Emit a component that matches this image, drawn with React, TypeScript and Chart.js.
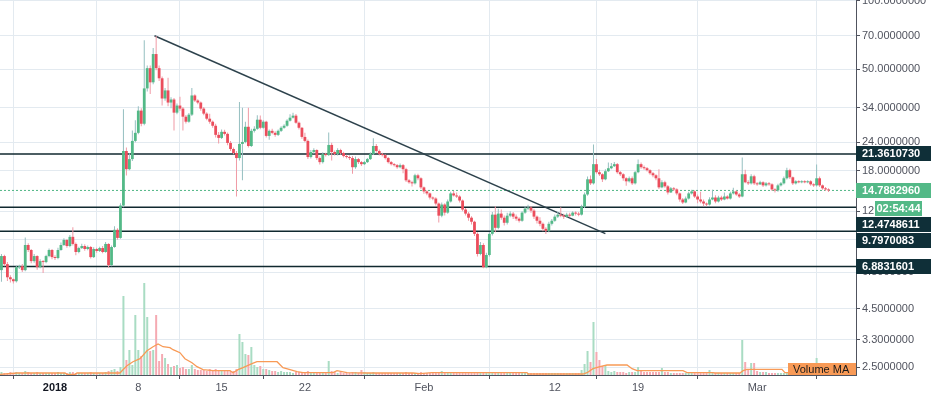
import React, { useEffect, useRef } from 'react';
import Chart from 'chart.js/auto';

// ---- time layout of the candles (6h candles, day 0 = 1 Jan 2018) ----
const START_DAY = -4.5;
const STEP_DAYS = 0.25;

// ---- price data ----
const firstOpen = 6.63;
const closes = [
  7.64, 7.04, 6.17, 6.05, 5.93, 6.83, 6.90, 6.63, 8.54, 8.12,
  7.26, 7.64, 6.83, 7.26, 7.19, 7.64, 8.12, 7.56, 7.49, 8.12,
  8.54, 8.99, 8.45, 9.27, 8.63, 7.96, 8.28, 8.45, 8.20, 8.37,
  7.56, 8.20, 8.04, 8.28, 7.96, 8.63, 6.97, 8.37, 9.95, 9.17,
  12.70, 21.99, 18.31, 20.27, 24.34, 26.40, 33.02, 28.93, 41.29, 50.61,
  43.89, 58.34, 50.61, 45.71, 37.30, 40.46, 35.81, 36.92, 32.35, 34.74,
  33.69, 31.06, 29.53, 31.70, 38.45, 36.55, 35.81, 33.69, 32.03, 30.44,
  29.53, 28.35, 25.87, 25.09, 26.67, 26.13, 23.85, 22.44, 21.55, 20.48,
  23.61, 24.09, 28.06, 23.13, 26.94, 27.50, 30.13, 27.78, 29.53, 25.60,
  26.94, 26.40, 25.87, 26.94, 27.78, 28.35, 29.83, 30.75, 31.38, 29.23,
  27.78, 25.34, 24.34, 20.69, 21.77, 22.21, 20.48, 19.66, 21.33, 21.11,
  23.37, 21.77, 21.33, 22.21, 21.55, 20.90, 20.69, 20.48, 18.68, 20.27,
  19.66, 19.26, 19.66, 20.27, 21.33, 23.13, 21.99, 21.33, 21.11, 20.48,
  19.66, 19.26, 19.07, 18.68, 19.07, 18.31, 16.37, 16.05, 15.88, 17.22,
  16.71, 15.25, 14.64, 14.35, 13.77, 13.63, 12.96, 11.47, 12.83, 11.83,
  13.23, 14.35, 14.06, 13.91, 13.36, 12.20, 11.71, 11.24, 10.79, 9.55,
  7.80, 8.54, 6.83, 7.72, 9.55, 11.59, 10.15, 11.71, 11.24, 10.68,
  11.47, 11.71, 11.36, 11.13, 10.90, 11.83, 12.32, 12.45, 12.07, 11.36,
  10.90, 10.57, 10.05, 9.85, 10.57, 10.90, 11.36, 11.59, 11.47, 11.36,
  11.59, 11.47, 11.83, 11.71, 11.59, 12.57, 14.20, 16.54, 15.88, 19.26,
  17.76, 17.40, 16.54, 17.94, 18.49, 18.87, 19.26, 17.76, 17.40, 16.71,
  16.21, 16.71, 15.88, 17.76, 19.26, 18.68, 18.49, 18.12, 17.58, 17.22,
  16.71, 15.25, 16.05, 15.41, 14.49, 15.10, 14.94, 14.35, 13.50, 13.10,
  13.63, 14.35, 14.64, 13.91, 13.50, 13.23, 12.96, 12.83, 13.50, 13.77,
  13.23, 13.77, 13.50, 13.91, 13.63, 14.35, 14.64, 14.20, 13.91, 17.40,
  16.05, 15.88, 17.05, 15.88, 15.72, 16.05, 15.56, 15.88, 15.72, 14.94,
  14.79, 15.56, 15.88, 16.71, 18.12, 16.88, 15.88, 16.21, 16.05, 16.21,
  16.05, 16.21, 15.72, 15.56, 16.71, 15.56, 15.10, 14.94, 14.788,
];
const highs = [
  7.80, 7.75, 7.20, 6.30, 6.10, 6.95, 7.00, 7.05, 9.20, 8.70,
  8.20, 7.80, 7.70, 7.40, 7.35, 7.75, 8.25, 8.20, 7.70, 8.30,
  8.75, 9.15, 9.05, 9.45, 10.20, 8.75, 8.40, 8.65, 8.60, 8.50,
  8.45, 8.35, 8.30, 8.40, 8.45, 8.80, 8.70, 8.50, 10.30, 10.10,
  13.00, 33.50, 22.80, 21.50, 27.00, 30.00, 34.50, 33.80, 67.00, 52.00,
  52.00, 62.00, 70.00, 52.00, 46.50, 41.50, 46.00, 37.80, 37.50, 35.50,
  38.00, 34.20, 31.60, 32.20, 41.50, 38.90, 37.00, 36.20, 34.20, 32.50,
  32.00, 29.90, 28.90, 26.60, 27.30, 27.20, 26.50, 24.30, 22.80, 22.00,
  36.00, 34.00, 29.50, 34.00, 27.50, 28.20, 31.50, 31.40, 30.00, 29.80,
  27.30, 27.50, 26.80, 27.30, 28.20, 28.80, 30.30, 31.80, 32.30, 31.90,
  29.60, 28.00, 26.40, 24.70, 22.20, 22.60, 22.40, 20.80, 21.70, 21.60,
  26.50, 23.90, 22.10, 22.60, 22.50, 21.80, 21.20, 21.00, 20.90, 20.80,
  20.50, 19.90, 19.90, 20.50, 21.70, 25.00, 23.60, 22.30, 21.60, 21.30,
  20.70, 19.90, 19.50, 19.30, 19.40, 19.30, 18.60, 16.60, 16.30, 17.50,
  17.50, 16.90, 15.40, 14.80, 14.50, 13.90, 13.80, 13.10, 13.10, 13.00,
  13.50, 14.60, 14.70, 14.50, 14.10, 13.50, 12.40, 11.90, 11.40, 10.90,
  9.70, 8.80, 8.70, 7.90, 9.70, 11.90, 12.60, 12.30, 12.20, 11.50,
  11.80, 12.00, 11.90, 11.60, 11.30, 12.00, 12.60, 12.80, 12.60, 12.30,
  11.50, 11.30, 10.70, 10.20, 10.80, 11.10, 11.60, 11.90, 12.50, 11.70,
  11.80, 11.80, 12.00, 12.00, 11.90, 12.80, 14.50, 17.00, 17.20, 23.50,
  20.30, 18.20, 17.60, 18.30, 19.60, 19.50, 19.70, 19.50, 18.00, 17.60,
  16.90, 17.00, 17.00, 18.00, 20.20, 19.60, 19.00, 18.70, 18.30, 17.80,
  17.40, 18.30, 16.40, 16.30, 15.60, 15.30, 15.30, 15.10, 14.50, 13.70,
  13.90, 14.60, 14.90, 14.80, 14.20, 14.60, 13.50, 13.10, 13.80, 14.90,
  14.10, 14.00, 14.00, 14.50, 14.10, 14.60, 15.20, 14.80, 14.40, 20.60,
  18.20, 16.40, 17.40, 17.30, 16.10, 16.30, 16.20, 16.10, 16.10, 15.90,
  15.10, 15.80, 16.10, 17.00, 18.60, 18.40, 17.00, 16.40, 16.40, 16.40,
  16.40, 16.40, 16.40, 15.90, 19.20, 17.00, 15.70, 15.30, 15.10,
];
const lows = [
  5.90, 6.90, 5.95, 5.85, 5.80, 5.85, 6.70, 6.50, 6.55, 7.95,
  7.10, 7.15, 6.65, 6.75, 6.45, 7.10, 7.55, 7.40, 7.35, 7.40,
  8.05, 8.45, 8.30, 8.35, 8.50, 7.70, 7.85, 8.20, 8.05, 8.10,
  7.45, 7.50, 7.90, 7.95, 7.85, 7.90, 6.80, 6.90, 8.30, 9.00,
  9.10, 12.50, 17.20, 18.10, 19.90, 24.00, 26.00, 28.20, 28.50, 40.00,
  39.00, 43.00, 49.50, 44.50, 34.80, 36.50, 34.50, 33.80, 27.00, 31.80,
  33.00, 27.00, 29.00, 29.20, 31.30, 36.00, 35.20, 33.00, 31.50, 30.00,
  28.90, 27.80, 25.20, 23.70, 24.80, 25.70, 23.30, 22.00, 21.30, 13.90,
  20.00, 16.40, 23.80, 22.80, 22.90, 26.50, 27.20, 27.40, 27.50, 25.20,
  24.60, 26.00, 25.40, 25.60, 26.60, 27.50, 28.10, 29.60, 30.50, 28.90,
  27.30, 24.90, 24.00, 20.30, 20.40, 21.40, 20.10, 19.20, 19.40, 20.80,
  20.90, 20.00, 21.00, 21.00, 21.20, 20.60, 20.40, 20.10, 17.50, 18.40,
  19.30, 18.90, 19.10, 19.50, 20.10, 21.10, 21.60, 21.00, 20.80, 20.20,
  19.40, 19.00, 18.80, 18.40, 18.50, 17.60, 16.10, 15.80, 15.40, 15.70,
  16.40, 15.00, 14.30, 14.10, 13.50, 13.40, 12.70, 10.70, 11.30, 11.50,
  11.70, 13.10, 13.90, 13.70, 13.10, 12.00, 11.50, 10.90, 10.50, 9.35,
  7.60, 7.70, 6.75, 6.75, 7.60, 9.40, 9.70, 10.00, 11.00, 10.40,
  10.50, 11.30, 11.10, 10.90, 10.70, 10.80, 11.70, 12.10, 11.80, 11.10,
  10.60, 10.30, 9.80, 9.55, 9.70, 10.40, 10.80, 11.20, 11.30, 11.10,
  11.20, 11.30, 11.40, 11.50, 11.40, 11.50, 12.40, 14.00, 15.60, 15.70,
  17.50, 17.10, 16.10, 16.40, 17.80, 18.30, 18.70, 17.50, 17.10, 16.30,
  15.50, 16.00, 15.60, 15.70, 17.60, 18.40, 18.20, 17.90, 17.30, 16.90,
  16.40, 15.00, 15.10, 15.20, 14.20, 14.40, 14.70, 14.10, 13.20, 12.90,
  13.00, 13.50, 14.20, 13.70, 13.00, 13.00, 12.60, 12.60, 12.70, 13.40,
  13.00, 13.10, 13.30, 13.40, 13.50, 13.50, 14.20, 14.00, 13.70, 13.80,
  15.90, 15.60, 15.70, 15.60, 15.50, 15.60, 15.30, 15.40, 15.50, 14.70,
  14.50, 14.60, 15.40, 15.70, 16.50, 16.60, 15.60, 15.70, 15.90, 15.90,
  15.90, 15.90, 15.50, 15.30, 15.40, 15.30, 14.90, 14.70, 14.55,
];
// volume per candle (relative units)
const volumes = [
  3, 2, 2, 3, 2, 3, 2, 2,
  4, 3, 2, 2, 3, 2, 2, 2,
  2, 2, 2, 3, 2, 2, 2, 3,
  3, 2, 2, 2, 2, 2, 3, 2,
  2, 2, 2, 3, 4, 5, 6, 4,
  8, 79, 15, 25, 10, 60, 25, 19,
  92, 58, 24, 25, 60, 14, 21, 17,
  11, 8, 9, 10, 7, 8, 6, 6,
  10, 6, 5, 5, 5, 4, 6, 5,
  6, 5, 4, 4, 5, 4, 4, 6,
  41, 33, 21, 20, 28, 10, 8, 9,
  6, 6, 5, 4, 4, 3, 4, 3,
  3, 3, 2, 3, 3, 3, 2, 4,
  3, 2, 3, 3, 2, 3, 14, 4,
  3, 2, 3, 2, 2, 2, 3, 3,
  2, 5, 3, 2, 2, 3, 2, 2,
  2, 2, 2, 2, 2, 2, 2, 2,
  3, 2, 2, 2, 2, 3, 2, 2,
  2, 2, 2, 3, 4, 2, 2, 3,
  2, 2, 2, 2, 2, 2, 2, 3,
  3, 3, 3, 3, 3, 3, 2, 3,
  2, 2, 2, 2, 2, 2, 2, 2,
  2, 2, 2, 2, 2, 2, 2, 2,
  2, 2, 2, 2, 2, 2, 2, 2,
  2, 2, 2, 5, 11, 24, 13, 53,
  23, 15, 9, 9, 4, 3, 4, 3,
  3, 3, 2, 3, 3, 3, 8, 5,
  3, 3, 3, 3, 3, 3, 7, 3,
  3, 2, 2, 2, 2, 2, 2, 2,
  2, 2, 2, 2, 2, 2, 5, 2,
  2, 2, 2, 2, 2, 2, 2, 2,
  2, 35, 13, 5, 12, 12, 4, 3,
  3, 3, 2, 2, 2, 2, 2, 2,
  3, 2, 2, 2, 2, 2, 2, 2,
  2, 2, 17, 3, 2, 2, 2,
];
// Volume MA line, read as points (day, value)
const maDays = [
  -4.62, -3.19, 0.84, 1.01, 1.68, 1.85, 5.46, 5.71, 6.05, 6.55,
  7.14, 7.73, 8.24, 8.66, 9.08, 9.66, 9.92, 10.5, 10.92, 11.51,
  11.93, 12.44, 13.28, 14.71, 14.96, 15.38, 15.8, 16.55, 16.97, 18.66,
  19.16, 19.75, 20.34, 20.84, 23.36, 23.7, 24.54, 26.22, 30.08, 30.67,
  31.68, 39.66, 39.75, 44.37, 44.71, 45.21, 45.8, 46.39, 48.07, 48.49,
  48.91, 52.77, 53.11, 55.29, 55.46, 57.56, 57.82, 58.15, 61.09, 61.34,
  67.3,
];
const maValues = [
  0.6, 2, 2, 0.6, 0.6, 2, 2, 5.3, 9.3, 13.3,
  16.3, 24.3, 28.3, 31, 28.3, 27.3, 25.3, 22.3, 16.3, 12.3,
  8.3, 5.3, 4.3, 4.3, 2.3, 5.3, 7.3, 11.3, 13.3, 13.3,
  7.3, 5.3, 3.3, 2.3, 2.3, 4.3, 2.3, 2, 2, 1.3,
  2.3, 2.3, 1, 1, 2.3, 6.3, 8.3, 10, 10, 6.3,
  4.3, 4.3, 2.3, 2.3, 2, 2, 4.3, 5.6, 5.6, 2.3,
  2.3,
];

// ---- axes ----
const tickDays = [0, 7, 14, 21, 31, 42, 49, 59];
const tickLabels = ['2018', '8', '15', '22', 'Feb', '12', '19', 'Mar'];
const priceTicks = [100, 70, 50, 34, 24, 18, 12, 9, 6.5, 4.5, 3.3, 2.5];

// ---- drawings ----
const levelValues = [21.361073, 12.4748611, 9.7970083, 6.8831601];
const lastPrice = 14.788296;
const countdownText = '02:54:44';
const trendDays = [8.36, 46.25];
const trendPrices = [70.1, 9.58];
const volumeMaLabel = 'Volume MA';

const X_MIN = -4.622;
const X_MAX = 67.31;
const Y_MIN = 2.308;
const Y_MAX = 100.5;
const VOL_MAX = 375;

const UP = '#53b987';
const DOWN = '#eb4d5c';
const UP_WICK = '#95bfc0';
const DOWN_WICK = '#f09aa5';
const UP_VOL = '#a9dcc3';
const DOWN_VOL = '#f5aab2';
const MA_COLOR = '#f89a56';
const LEVEL_COLOR = '#10292f';
const LABEL_BG = '#0f2f38';
const GRID = '#e3eaf0';
const AXIS = '#50535e';
const FONT = "'Liberation Sans', Arial, sans-serif";

const labelsPlugin = {
  id: 'priceLabels',
  afterDraw(chart: any) {
    const { ctx, chartArea, scales } = chart;
    const ys = scales.y;
    const left = chartArea.right;
    const right = chart.width;
    const h = 15;
    ctx.save();
    ctx.font = `bold 11px ${FONT}`;
    ctx.textBaseline = 'middle';
    const drawBox = (cy: number, bg: string, text: string, x0: number, x1: number, align: string) => {
      ctx.fillStyle = bg;
      ctx.fillRect(x0, Math.round(cy - h / 2), x1 - x0, h);
      ctx.fillStyle = '#ffffff';
      ctx.textAlign = align;
      const tx = align === 'center' ? (x0 + x1) / 2 : x0 + 6;
      ctx.fillText(text, tx, cy + 0.5);
    };
    const items: { y: number; bg: string; text: string; countdown?: boolean }[] = [];
    items.push({ y: ys.getPixelForValue(levelValues[0]), bg: LABEL_BG, text: levelValues[0].toFixed(7) });
    const lastY = ys.getPixelForValue(lastPrice);
    items.push({ y: lastY, bg: UP, text: lastPrice.toFixed(7) });
    items.push({ y: lastY + 18, bg: UP, text: countdownText, countdown: true });
    for (let i = 1; i < levelValues.length; i++) {
      items.push({ y: ys.getPixelForValue(levelValues[i]), bg: LABEL_BG, text: levelValues[i].toFixed(7) });
    }
    let prevBottom = -Infinity;
    for (const it of items) {
      let cy = it.y;
      if (cy - h / 2 < prevBottom + 1) cy = prevBottom + 1 + h / 2;
      prevBottom = cy + h / 2;
      if (it.countdown) drawBox(cy, it.bg, it.text, left + 19, left + 66, 'center');
      else drawBox(cy, it.bg, it.text, left, right, 'left');
    }
    // Volume MA legend tag
    ctx.font = `11px ${FONT}`;
    ctx.fillStyle = MA_COLOR;
    const bx = chartArea.right - 68;
    const by = chartArea.bottom - 12;
    ctx.fillRect(bx, by, 68, 12);
    ctx.fillStyle = '#1a1a1a';
    ctx.textAlign = 'left';
    ctx.textBaseline = 'middle';
    ctx.fillText(volumeMaLabel, bx + 5, by + 7);
    ctx.restore();
  },
};

export default function App() {
  const ref = useRef<HTMLCanvasElement | null>(null);
  useEffect(() => {
    if (!ref.current) return;
    const opens = closes.map((c, i) => (i === 0 ? firstOpen : closes[i - 1]));
    const xs = closes.map((_, i) => START_DAY + i * STEP_DAYS);
    const isUp = closes.map((c, i) => c >= opens[i]);
    const levelData = (v: number) => [
      { x: X_MIN, y: v },
      { x: X_MAX, y: v },
    ];
    const chart = new Chart(ref.current, {
      type: 'bar',
      data: {
        datasets: [
          {
            type: 'bar',
            label: 'bodies',
            data: xs.map((x, i) => ({ x, y: [opens[i], closes[i]] })) as any,
            backgroundColor: isUp.map((u) => (u ? UP : DOWN)),
            barThickness: 2.8,
            minBarLength: 1,
            grouped: false,
            inflateAmount: 0,
            borderWidth: 0,
            yAxisID: 'y',
            order: 0,
          } as any,
          {
            type: 'bar',
            label: 'wicks',
            data: xs.map((x, i) => ({ x, y: [lows[i], highs[i]] })) as any,
            backgroundColor: isUp.map((u) => (u ? UP_WICK : DOWN_WICK)),
            barThickness: 1,
            grouped: false,
            inflateAmount: 0,
            borderWidth: 0,
            yAxisID: 'y',
            order: 1,
          } as any,
          ...levelValues.map(
            (v) =>
              ({
                type: 'line',
                label: 'level',
                data: levelData(v),
                borderColor: LEVEL_COLOR,
                borderWidth: 1.5,
                pointRadius: 0,
                yAxisID: 'y',
                order: 3,
              } as any)
          ),
          {
            type: 'line',
            label: 'last',
            data: levelData(lastPrice),
            borderColor: '#4db583',
            borderWidth: 1,
            borderDash: [2, 2],
            pointRadius: 0,
            yAxisID: 'y',
            order: 3,
          } as any,
          {
            type: 'line',
            label: 'trend',
            data: trendDays.map((d, i) => ({ x: d, y: trendPrices[i] })),
            borderColor: '#2d424c',
            borderWidth: 1.5,
            pointRadius: 0,
            yAxisID: 'y',
            order: 2,
          } as any,
          {
            type: 'line',
            label: 'Volume MA',
            data: maDays.map((d, i) => ({ x: d, y: maValues[i] })),
            borderColor: MA_COLOR,
            borderWidth: 1.3,
            pointRadius: 0,
            yAxisID: 'vol',
            order: 5,
          } as any,
          {
            type: 'bar',
            label: 'volume',
            data: xs.map((x, i) => ({ x, y: volumes[i] })),
            backgroundColor: isUp.map((u) => (u ? UP_VOL : DOWN_VOL)),
            barThickness: 2,
            grouped: false,
            inflateAmount: 0,
            borderWidth: 0,
            yAxisID: 'vol',
            order: 6,
          } as any,
        ],
      },
      options: {
        responsive: false,
        animation: false,
        devicePixelRatio: 1,
        layout: { padding: 0 },
        plugins: { legend: { display: false }, tooltip: { enabled: false } },
        events: [],
        scales: {
          x: {
            type: 'linear',
            min: X_MIN,
            max: X_MAX,
            offset: false,
            afterBuildTicks: (s: any) => {
              s.ticks = tickDays.map((v) => ({ value: v }));
            },
            afterFit: (s: any) => {
              s.height = 20;
              s.paddingLeft = 0;
              s.paddingRight = 0;
            },
            ticks: {
              autoSkip: false,
              maxRotation: 0,
              padding: 2,
              callback: (v: any) => {
                const k = tickDays.indexOf(Number(v));
                return k >= 0 ? tickLabels[k] : '';
              },
              font: (c: any) => ({
                family: FONT,
                size: 11,
                weight: c.tick && c.tick.value === 0 ? 'bold' : 'normal',
              }),
              color: (c: any) => (c.tick && c.tick.value === 0 ? '#131722' : AXIS),
            },
            grid: { color: GRID, tickColor: AXIS, tickLength: 4, drawTicks: true },
            border: { color: AXIS, width: 1 },
          } as any,
          y: {
            type: 'logarithmic',
            position: 'right',
            min: Y_MIN,
            max: Y_MAX,
            afterBuildTicks: (s: any) => {
              s.ticks = priceTicks.map((v) => ({ value: v }));
            },
            afterFit: (s: any) => {
              s.width = 75;
              s.paddingTop = 0;
              s.paddingBottom = 0;
            },
            ticks: {
              autoSkip: false,
              padding: 2,
              callback: (v: any) => Number(v).toFixed(7),
              font: { family: FONT, size: 11 },
              color: AXIS,
            },
            grid: { color: GRID, tickColor: AXIS, tickLength: 4, drawTicks: true },
            border: { color: AXIS, width: 1 },
          } as any,
          vol: {
            type: 'linear',
            display: false,
            min: 0,
            max: VOL_MAX,
          },
        },
      } as any,
      plugins: [labelsPlugin],
    });
    return () => chart.destroy();
  }, []);
  return (
    <div style={{ position: 'fixed', left: 0, top: 0, width: 931, height: 395, background: '#ffffff' }}>
      <canvas ref={ref} width={931} height={395} style={{ display: 'block', width: 931, height: 395 }} />
    </div>
  );
}
